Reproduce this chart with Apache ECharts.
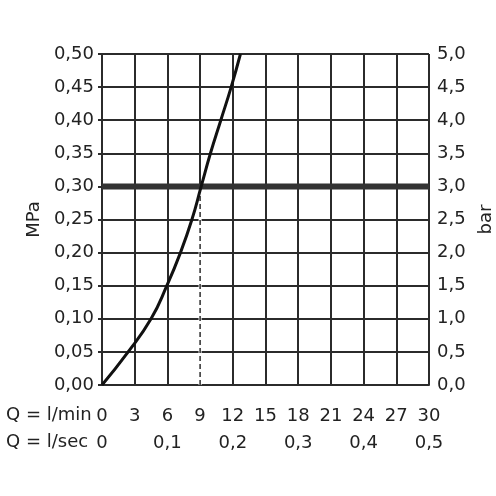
<!DOCTYPE html>
<html>
<head>
<meta charset="utf-8">
<script src="https://cdn.jsdelivr.net/npm/echarts@6/dist/echarts.min.js"></script>
<style>
  html, body { margin: 0; padding: 0; background: #fff; }
  #main { width: 496px; height: 496px; }
</style>
</head>
<body>
<div id="main"></div>
<script>
// flow in l/min vs pressure in MPa
var flowLmin = [0, 2.4, 4.5, 5.95, 7.2, 8.25, 9.1, 9.95, 10.9, 11.85, 12.7];
var pressMPa = [0, 0.05, 0.10, 0.15, 0.20, 0.25, 0.30, 0.35, 0.40, 0.45, 0.50];
// reference pressure line and operating point
var refPressure = 0.30;
var refFlow = 9;
// axis ranges
var xMax = 30, xStep = 3;
var yMax = 0.5, yStep = 0.05;

var font = 'DejaVu Sans';
var ink = '#2b2b2b';
var fs = 18;

var chart = echarts.init(document.getElementById('main'));

function comma(v, d) {
  return v.toFixed(d).replace('.', ',');
}

var curve = flowLmin.map(function (x, i) { return [x, pressMPa[i]]; });

var option = {
  animation: false,
  grid: { left: 102, right: 67, top: 54, bottom: 111, containLabel: false, outerBoundsMode: 'none' },
  xAxis: [{
    type: 'value', min: 0, max: xMax, interval: xStep,
    position: 'bottom',
    axisLine: { show: true, lineStyle: { color: ink, width: 2 } },
    axisTick: { show: false },
    splitLine: { show: true, lineStyle: { color: ink, width: 2 } },
    axisLabel: { margin: 22, color: '#222', fontFamily: font, fontSize: fs }
  }, {
    // second scale, l/sec
    type: 'value', min: 0, max: xMax, interval: 6,
    position: 'bottom', offset: 27,
    axisLine: { show: false },
    axisTick: { show: false },
    splitLine: { show: false },
    axisLabel: {
      margin: 22, color: '#222', fontFamily: font, fontSize: fs,
      formatter: function (v) { return v === 0 ? '0' : comma(v / 60, 1); }
    }
  }],
  yAxis: [{
    type: 'value', min: 0, max: yMax, interval: yStep,
    position: 'left',
    name: 'MPa', nameLocation: 'middle', nameGap: 58, nameRotate: 90,
    nameTextStyle: { color: '#222', fontFamily: font, fontSize: fs },
    axisLine: { show: true, lineStyle: { color: ink, width: 2 } },
    axisTick: { show: true, length: 4, lineStyle: { color: ink, width: 2 } },
    splitLine: { show: true, lineStyle: { color: ink, width: 2 } },
    axisLabel: { margin: 8, color: '#222', fontFamily: font, fontSize: fs,
      formatter: function (v) { return comma(v, 2); } }
  }, {
    type: 'value', min: 0, max: yMax * 10, interval: yStep * 10,
    position: 'right',
    name: 'bar', nameLocation: 'middle', nameGap: 48, nameRotate: 90,
    nameTextStyle: { color: '#222', fontFamily: font, fontSize: fs },
    axisLine: { show: true, lineStyle: { color: ink, width: 2 } },
    axisTick: { show: true, length: 4, lineStyle: { color: ink, width: 2 } },
    splitLine: { show: false },
    axisLabel: { margin: 8, color: '#222', fontFamily: font, fontSize: fs,
      formatter: function (v) { return comma(v, 1); } }
  }],
  graphic: [
    { type: 'text', left: 6, top: 406,
      style: { text: 'Q = l/min', fill: '#222', font: fs + 'px ' + font } },
    { type: 'text', left: 6, top: 433,
      style: { text: 'Q = l/sec', fill: '#222', font: fs + 'px ' + font } }
  ],
  series: [{
    // blank out the grid line under the dashed drop line
    type: 'line', symbol: 'none', silent: true,
    data: [[refFlow, 0], [refFlow, refPressure]],
    lineStyle: { color: '#fff', width: 3 }
  }, {
    type: 'line', symbol: 'none', silent: true,
    data: [[refFlow, 0], [refFlow, refPressure]],
    lineStyle: { color: ink, width: 1.5, type: [5, 3] }
  }, {
    type: 'line', symbol: 'none', silent: true,
    data: [[0, refPressure], [xMax, refPressure]],
    lineStyle: { color: '#333', width: 6 }
  }, {
    type: 'line', symbol: 'none', smooth: 0.5,
    data: curve,
    lineStyle: { color: '#111', width: 3 }
  }]
};

chart.setOption(option);
</script>
</body>
</html>
